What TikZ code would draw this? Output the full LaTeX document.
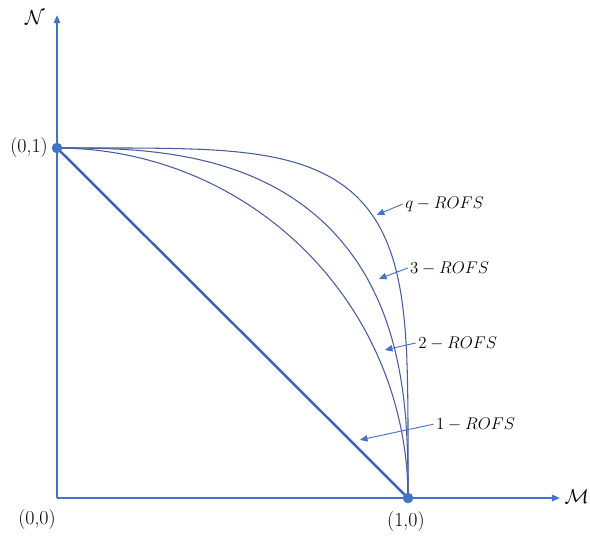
\documentclass[tikz,border=0pt]{standalone}
\usepackage{amsmath}
\usepackage{amssymb}
\usetikzlibrary{arrows.meta,calc,positioning}
\definecolor{officeblue}{rgb}{0.27,0.45,0.77}
\definecolor{deepblue}{rgb}{0.24,0.38,0.72}
\definecolor{slateblue}{rgb}{0.28,0.36,0.60}
\tikzset{
  axis/.style={
    -{Triangle[length=7pt,width=5.5pt]},
    line width=1.7pt,
    officeblue
  },
  diag/.style={
    line width=2.1pt,
    deepblue
  },
  curve/.style={
    line width=.9pt,
    slateblue
  },
  pointer/.style={
    -{Triangle[length=6.5pt,width=5.5pt]},
    line width=.8pt,
    officeblue
  },
  dot/.style={
    circle,
    fill=officeblue,
    inner sep=0pt,
    minimum size=9pt
  },
  rofs/.style={
    anchor=west,
    inner sep=2pt,
    font=\fontsize{15}{18}\selectfont
  },
  coord/.style={
    inner sep=2pt,
    font=\fontsize{17}{20}\selectfont
  },
  axlabel/.style={
    inner sep=1pt,
    font=\fontsize{18}{21}\selectfont
  }
}
\begin{document}
\begin{tikzpicture}[x=10.53cm,y=10.5cm]
\useasboundingbox (-0.1624,-0.1057) rectangle (1.5185,1.4229);
% axes
\coordinate (o) at (0,0);
\coordinate (xend) at (1.433,0);
\coordinate (yend) at (0,1.38);
\draw[axis] (o) -- (xend);
\draw[axis] (o) -- (yend);
\node[axlabel] (m) at (1.481,0.003) {$\mathcal{M}$};
\node[axlabel] (n) at (-0.063,1.374) {$\mathcal{N}$};
% end points
\coordinate (p01) at (0,1);
\coordinate (p10) at (1,0);
\draw[diag] (p01) -- (p10);
\foreach \q in {2,2.7,4.5}{
  \draw[curve] (p01) -- plot[domain=89.8:0.2,samples=160,variable=\t]
    ({pow(cos(\t),2/\q)},{pow(sin(\t),2/\q)}) -- (p10);
}
\node[dot] (d01) at (p01) {};
\node[dot] (d10) at (p10) {};
\node[coord,left=1pt of d01] (l01) {(0,1)};
\node[coord] (l00) at (-0.057,-0.062) {(0,0)};
\node[coord] (l10) at (0.994,-0.066) {(1,0)};
% labels of the curves
\node[rofs] (lq) at (0.985,0.840) {$q-ROFS$};
\node[rofs] (l3) at (0.999,0.657) {$3-ROFS$};
\node[rofs] (l2) at (1.022,0.443) {$2-ROFS$};
\node[rofs] (l1) at (1.073,0.211) {$1-ROFS$};
\coordinate (tq) at (0.911,0.809);
\coordinate (t3) at (0.917,0.626);
\coordinate (t2) at (0.934,0.423);
\coordinate (t1) at (0.863,0.166);
\draw[pointer] (lq.west) -- (tq);
\draw[pointer] (l3.west) -- (t3);
\draw[pointer] (l2.west) -- (t2);
\draw[pointer] (l1.west) -- (t1);
\end{tikzpicture}
\end{document}
